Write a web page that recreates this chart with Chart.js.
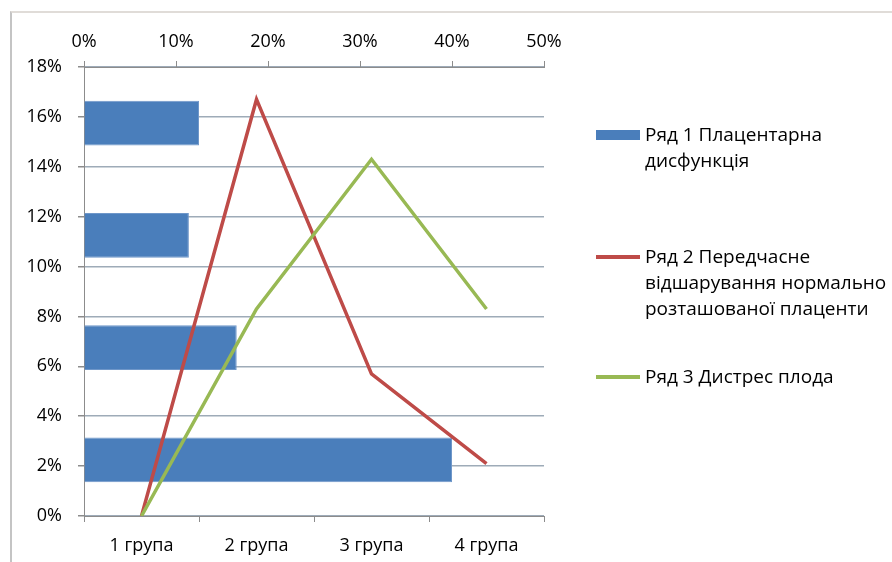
<!DOCTYPE html>
<html>
<head>
<meta charset="utf-8">
<script src="https://cdn.jsdelivr.net/npm/chart.js@4.4.1/dist/chart.umd.min.js"></script>
<style>
  html, body { margin: 0; padding: 0; background: #fff; }
  #wrap { position: relative; width: 892px; height: 562px; overflow: hidden; }
  #frame { position: absolute; left: 10px; top: 11px; width: 900px; height: 600px;
           border-top: 2px solid #e0dcd8; border-left: 2px solid #c4c4c4; }
  #myChart { position: absolute; left: 0; top: 0; }
  #legend { position: absolute; left: 596px; top: 0; font-family: 'Open Sans', sans-serif;
            font-size: 19px; color: #000; line-height: 26px; }
  .item { position: absolute; left: 0; white-space: nowrap; }
  .sw { position: absolute; left: 0; width: 44px; }
  .txt { position: absolute; left: 49px; }
</style>
</head>
<body>
<div id="wrap">
  <div id="frame"></div>
  <canvas id="myChart" width="892" height="562"></canvas>
  <div id="legend"></div>
</div>
<script>
// Категорії (нижня вісь)
const categories = ['1 група', '2 група', '3 група', '4 група'];
// Ряд 1 - стовпчики (верхня вісь, 0-50%)
const series1 = [0.40, 0.166, 0.114, 0.125];
// Ряд 2 і Ряд 3 - лінії (ліва вісь, 0-18%)
const series2 = [0.0, 0.167, 0.057, 0.021];
const series3 = [0.0, 0.083, 0.143, 0.083];
const seriesNames = [
  ['Ряд 1 Плацентарна', 'дисфункція'],
  ['Ряд 2 Передчасне', 'відшарування нормально', 'розташованої плаценти'],
  ['Ряд 3 Дистрес плода']
];
const colors = ['#4a7ebb', '#be4b48', '#98b954'];

const pct = v => Math.round(v * 100) + '%';
const axisColor = '#8c8c8c';

Chart.defaults.font.family = "'Open Sans', sans-serif";
Chart.defaults.font.size = 18;
Chart.defaults.color = '#000';

let ctx = document.getElementById('myChart').getContext('2d');
let chart = new Chart(ctx, {
  type: 'line',
  data: {
    labels: categories,
    datasets: [
      {
        type: 'bar',
        label: seriesNames[0].join(' '),
        indexAxis: 'y',
        xAxisID: 'x2',
        yAxisID: 'y2',
        data: series1,
        backgroundColor: colors[0],
        borderColor: '#6f97c9',
        borderWidth: 1,
        grouped: false,
        barPercentage: 0.4,
        categoryPercentage: 1,
        order: 2
      },
      {
        label: seriesNames[1].join(' '),
        data: series2,
        borderColor: colors[1],
        borderWidth: 3.5,
        pointRadius: 0,
        tension: 0,
        xAxisID: 'x',
        yAxisID: 'y',
        order: 1
      },
      {
        label: seriesNames[2].join(' '),
        data: series3,
        borderColor: colors[2],
        borderWidth: 3.5,
        pointRadius: 0,
        tension: 0,
        xAxisID: 'x',
        yAxisID: 'y',
        order: 0
      }
    ]
  },
  options: {
    responsive: false,
    animation: false,
    layout: { padding: { left: 0, top: 0, right: 348, bottom: 0 } },
    plugins: { legend: { display: false }, tooltip: { enabled: false } },
    scales: {
      x: {
        type: 'category',
        position: 'bottom',
        offset: true,
        grid: { offset: true, drawOnChartArea: false, tickLength: 6, color: axisColor, tickColor: axisColor },
        border: { color: axisColor },
        ticks: { padding: 13, maxRotation: 0 },
        afterFit: s => { s.height = 46; }
      },
      y: {
        type: 'linear',
        position: 'left',
        min: 0,
        max: 0.18,
        ticks: { stepSize: 0.02, padding: 16, callback: v => pct(v) },
        grid: { color: '#9eabb8', tickColor: axisColor, tickLength: 6, lineWidth: 1.5 },
        border: { color: axisColor },
        afterFit: s => { s.width = 84; }
      },
      x2: {
        type: 'linear',
        axis: 'x',
        position: 'top',
        min: 0,
        max: 0.5,
        ticks: { stepSize: 0.1, padding: 8, callback: v => pct(v) },
        grid: { drawOnChartArea: false, tickLength: 6, color: axisColor, tickColor: axisColor },
        border: { color: axisColor },
        afterFit: s => { s.height = 67; }
      },
      y2: {
        type: 'category',
        axis: 'y',
        display: false,
        offset: true,
        reverse: true
      }
    }
  }
});

// Легенда справа
const legendTops = [121, 243, 363];
const legend = document.getElementById('legend');
seriesNames.forEach((lines, i) => {
  const item = document.createElement('div');
  item.className = 'item';
  item.style.top = legendTops[i] + 'px';
  const sw = document.createElement('div');
  sw.className = 'sw';
  if (i === 0) {
    sw.style.top = '9px'; sw.style.height = '10px'; sw.style.background = colors[0];
  } else {
    sw.style.top = '12px'; sw.style.height = '4px'; sw.style.background = colors[i];
  }
  const txt = document.createElement('div');
  txt.className = 'txt';
  txt.innerHTML = lines.join('<br>');
  item.appendChild(sw);
  item.appendChild(txt);
  legend.appendChild(item);
});
</script>
</body>
</html>
